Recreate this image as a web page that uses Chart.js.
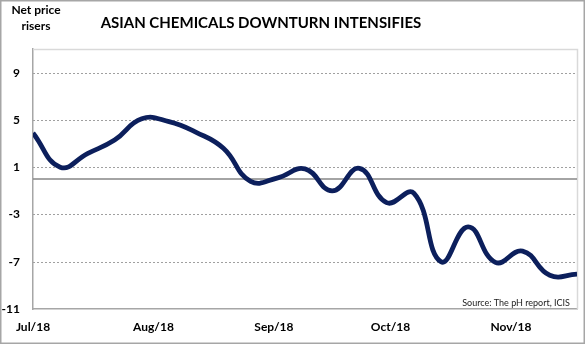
<!DOCTYPE html>
<html>
<head>
<meta charset="utf-8">
<script src="https://cdn.jsdelivr.net/npm/chart.js@4"></script>
<style>
  html,body{margin:0;padding:0;background:#fff;}
  canvas{display:block;}
</style>
</head>
<body>
<canvas id="c" width="586" height="345"></canvas>
<script>
// ---- data ----
const weekDates = ['2018-07-01','2018-07-08','2018-07-15','2018-07-22','2018-07-29','2018-08-05','2018-08-12',
  '2018-08-19','2018-08-26','2018-09-02','2018-09-09','2018-09-16','2018-09-23','2018-09-30','2018-10-07',
  '2018-10-14','2018-10-21','2018-10-28','2018-11-04','2018-11-11','2018-11-18'];
const netPriceRisers = [3.9, 1.0, 2.15, 3.3, 5.1, 4.85, 3.95, 2.6, -0.2, 0.1, 0.85, -1.0, 0.9, -2.0, -1.2,
  -7.0, -4.05, -7.05, -6.1, -8.15, -8.05];
const monthStarts = ['2018-07-01','2018-08-01','2018-09-01','2018-10-01','2018-11-01'];
const monthLabels = ['Jul/18','Aug/18','Sep/18','Oct/18','Nov/18'];
const yTicks = [-11, -7, -3, 1, 5, 9];
const titleText = 'ASIAN CHEMICALS DOWNTURN INTENSIFIES';
const yTitleLines = ['Net price', 'risers'];
const sourceText = 'Source: The pH report, ICIS';

const DAY = 86400000;
const origin = Date.parse(weekDates[0]);
const toDay = s => Math.round((Date.parse(s) - origin) / DAY);
const points = weekDates.map((d, i) => ({x: toDay(d), y: netPriceRisers[i]}));
const monthDays = monthStarts.map(toDay);

const FONT = 'Lato, "Liberation Sans", sans-serif';

const decor = {
  id: 'decor',
  beforeDatasetsDraw(chart) {
    const {ctx, chartArea: a, scales: {y}} = chart;
    ctx.save();
    // dotted grid lines
    ctx.strokeStyle = '#a0a0a0';
    ctx.lineWidth = 1;
    ctx.setLineDash([2, 2]);
    yTicks.forEach(v => {
      if (v === y.min) return;
      const py = Math.round(y.getPixelForValue(v)) + 0.5;
      ctx.beginPath(); ctx.moveTo(a.left, py); ctx.lineTo(a.right, py); ctx.stroke();
    });
    ctx.setLineDash([]);
    // plot border top/right
    ctx.strokeStyle = '#d9d9d9';
    ctx.lineWidth = 1.5;
    ctx.beginPath();
    ctx.moveTo(a.left, a.top + 0.5); ctx.lineTo(a.right + 0.5, a.top + 0.5); ctx.lineTo(a.right + 0.5, a.bottom);
    ctx.stroke();
    // zero line
    ctx.strokeStyle = '#868686';
    ctx.lineWidth = 1.5;
    const z = y.getPixelForValue(0);
    ctx.beginPath(); ctx.moveTo(a.left, z); ctx.lineTo(a.right, z); ctx.stroke();
    ctx.restore();
  },
  afterDraw(chart) {
    const {ctx, chartArea: a} = chart;
    ctx.save();
    ctx.fillStyle = '#000';
    ctx.textAlign = 'center';
    ctx.textBaseline = 'middle';
    ctx.font = 'bold 15px ' + FONT;
    ctx.fillText(titleText, 261, 23);
    ctx.font = 'bold 12px ' + FONT;
    ctx.fillText(yTitleLines[0], 36, 10);
    ctx.fillText(yTitleLines[1], 36, 26);
    ctx.font = '9px ' + FONT;
    ctx.textAlign = 'right';
    ctx.fillStyle = '#222';
    ctx.fillText(sourceText, a.right - 7, a.bottom - 6);
    // outer frame
    ctx.strokeStyle = '#a6a6a6';
    ctx.lineWidth = 1.5;
    ctx.strokeRect(0.75, 0.75, 583.5, 342.5);
    ctx.restore();
  }
};

new Chart(document.getElementById('c'), {
  type: 'line',
  data: {
    datasets: [{
      data: points,
      borderColor: '#0c1f5c',
      borderWidth: 4.8,
      pointRadius: 0,
      tension: 0.45,
      fill: false
    }]
  },
  options: {
    responsive: false,
    animation: false,
    devicePixelRatio: 1,
    layout: {padding: {top: 49, right: 9, left: 0, bottom: 0}},
    plugins: {legend: {display: false}, tooltip: {enabled: false}},
    scales: {
      x: {
        type: 'linear',
        min: 0,
        max: points[points.length - 1].x,
        afterBuildTicks: s => { s.ticks = monthDays.map(v => ({value: v})); },
        afterFit: s => { s.height = 36; },
        grid: {display: false, drawTicks: false},
        border: {display: true, color: '#a6a6a6', width: 1.5},
        ticks: {
          autoSkip: false, maxRotation: 0, padding: 11, color: '#000',
          font: {family: FONT, size: 12, weight: 'bold'},
          callback: (v, i) => monthLabels[i]
        }
      },
      y: {
        min: -11,
        max: 11,
        afterBuildTicks: s => { s.ticks = yTicks.map(v => ({value: v})); },
        afterFit: s => { s.width = 33; },
        grid: {display: false, drawTicks: false},
        border: {display: true, color: '#a6a6a6', width: 1.5},
        ticks: {
          padding: 13, color: '#000',
          font: {family: FONT, size: 12, weight: 'bold'}
        }
      }
    }
  },
  plugins: [decor]
});
</script>
</body>
</html>
